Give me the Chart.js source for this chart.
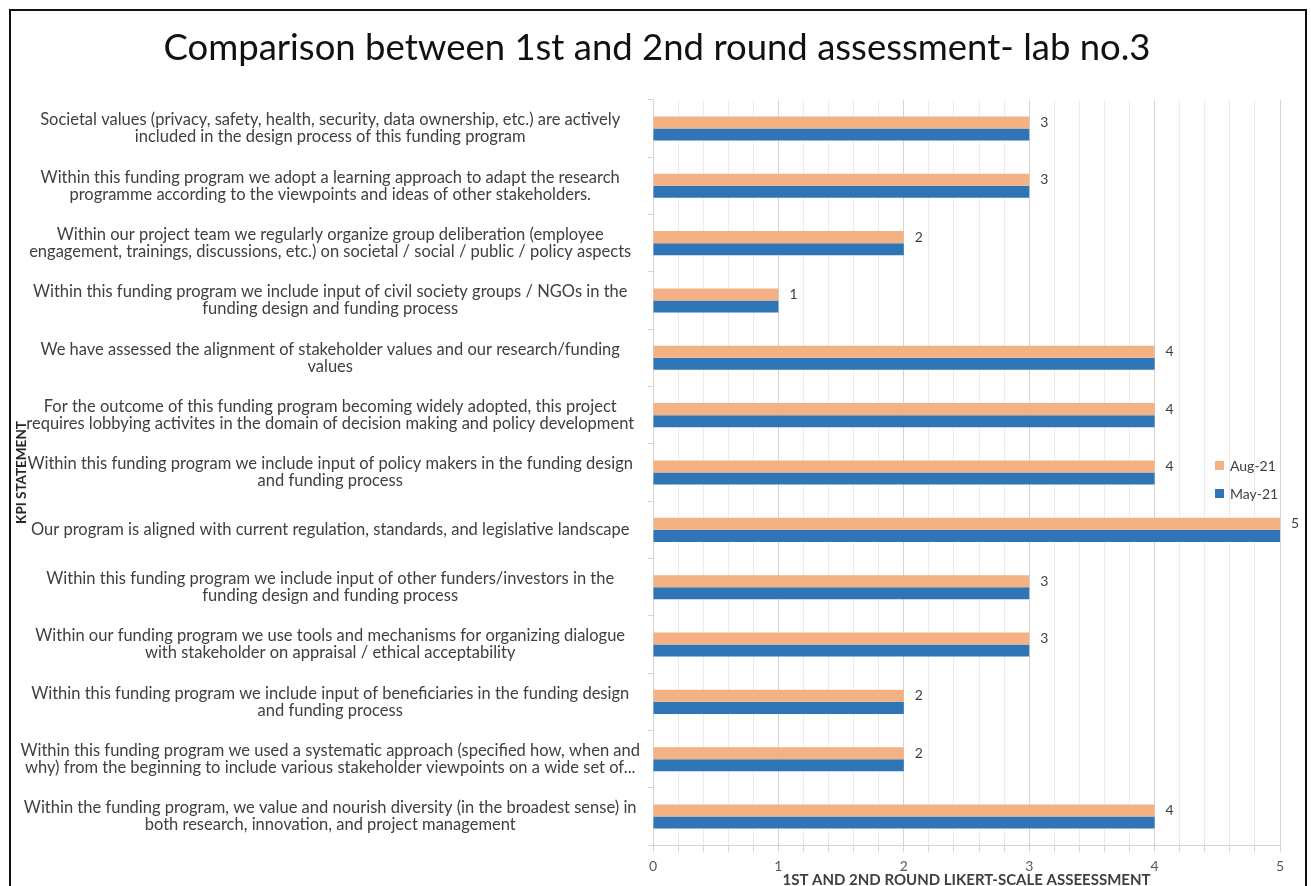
<!DOCTYPE html>
<html>
<head>
<meta charset="utf-8">
<script src="https://cdn.jsdelivr.net/npm/chart.js@4/dist/chart.umd.min.js"></script>
<style>
  html, body { margin: 0; padding: 0; background: #fff; overflow: hidden; }
  #wrap { position: relative; width: 1311px; height: 891px; }
  #frame { position: absolute; left: 9px; top: 9px; width: 1294px; height: 900px;
           border: 2px solid #111; pointer-events: none; }
</style>
</head>
<body>
<div id="wrap">
  <canvas id="kpiChart"></canvas>
  <div id="frame"></div>
</div>
<script>
const statements = [
  ['Societal values (privacy, safety, health, security, data ownership, etc.) are actively', 'included in the design process of this funding program'],
  ['Within this funding program we adopt a learning approach to adapt the research', 'programme according to the viewpoints and ideas of other stakeholders.'],
  ['Within our project team we regularly organize group deliberation (employee', 'engagement, trainings, discussions, etc.) on societal / social / public / policy aspects'],
  ['Within this funding program we include input of civil society groups / NGOs in the', 'funding design and funding process'],
  ['We have assessed the alignment of stakeholder values and our research/funding', 'values'],
  ['For the outcome of this funding program becoming widely adopted, this project', 'requires lobbying activites in the domain of decision making and policy development'],
  ['Within this funding program we include input of policy makers in the funding design', 'and funding process'],
  ['Our program is aligned with current regulation, standards, and legislative landscape'],
  ['Within this funding program we include input of other funders/investors in the', 'funding design and funding process'],
  ['Within our funding program we use tools and mechanisms for organizing dialogue', 'with stakeholder on appraisal / ethical acceptability'],
  ['Within this funding program we include input of beneficiaries in the funding design', 'and funding process'],
  ['Within this funding program we used a systematic approach (specified how, when and', 'why) from the beginning to include various stakeholder viewpoints on a wide set of...'],
  ['Within the funding program, we value and nourish diversity (in the broadest sense) in', 'both research, innovation, and project management']
];
const aug21 = [3, 3, 2, 1, 4, 4, 4, 5, 3, 3, 2, 2, 4];
const may21 = [3, 3, 2, 1, 4, 4, 4, 5, 3, 3, 2, 2, 4];
const seriesNames = ['Aug-21', 'May-21'];
const xTicks = [0, 1, 2, 3, 4, 5];

const FONT = 'Lato, "Open Sans", sans-serif';
const isMajor = v => Math.abs(v - Math.round(v)) < 1e-6;

// value labels next to the Aug-21 bars
const valueLabels = {
  id: 'valueLabels',
  afterDatasetsDraw(chart) {
    const ctx = chart.ctx;
    const meta = chart.getDatasetMeta(0);
    ctx.save();
    ctx.font = '14px ' + FONT;
    ctx.fillStyle = '#404040';
    ctx.textAlign = 'left';
    ctx.textBaseline = 'middle';
    meta.data.forEach((bar, i) => {
      ctx.fillText(String(chart.data.datasets[0].data[i]), bar.x + 11, bar.y);
    });
    ctx.restore();
  }
};

// legend sitting inside the plot on the right
const innerLegend = {
  id: 'innerLegend',
  afterDraw(chart) {
    const ctx = chart.ctx;
    ctx.save();
    ctx.font = '14px ' + FONT;
    ctx.textBaseline = 'middle';
    chart.data.datasets.forEach((ds, i) => {
      const y = 466 + i * 28;
      ctx.fillStyle = ds.backgroundColor;
      ctx.fillRect(1215, y - 5, 9, 9);
      ctx.fillStyle = '#404040';
      ctx.fillText(ds.label, 1230, y);
    });
    ctx.restore();
  }
};

// centre the title on the whole frame rather than the padded box
const titleShift = {
  id: 'titleShift',
  afterLayout(chart) {
    if (chart.titleBlock) {
      chart.titleBlock.left += 11;
      chart.titleBlock.right += 11;
    }
  }
};

new Chart(document.getElementById('kpiChart'), {
  type: 'bar',
  data: {
    labels: statements,
    datasets: [
      { label: seriesNames[0], data: aug21, backgroundColor: '#F4B183' },
      { label: seriesNames[1], data: may21, backgroundColor: '#2E75B6' }
    ]
  },
  options: {
    indexAxis: 'y',
    responsive: true,
    maintainAspectRatio: false,
    animation: false,
    layout: { padding: { left: 12, right: 31, top: 0, bottom: 0 } },
    datasets: { bar: { barPercentage: 1, categoryPercentage: 0.42 } },
    plugins: {
      legend: { display: false },
      tooltip: { enabled: false },
      title: {
        display: true,
        text: 'Comparison between 1st and 2nd round assessment- lab no.3',
        color: '#111',
        font: { family: FONT, size: 36.5, weight: 'normal', lineHeight: 1.2 },
        padding: { top: 26, bottom: 30 }
      }
    },
    scales: {
      x: {
        min: 0,
        max: 5,
        ticks: {
          stepSize: 0.2,
          autoSkip: false,
          color: '#595959',
          font: { family: FONT, size: 14 },
          padding: 6,
          maxRotation: 0,
          callback: v => isMajor(v) && xTicks.includes(Math.round(v)) ? String(Math.round(v)) : ''
        },
        grid: {
          color: c => isMajor(c.tick.value) ? '#d4d4d4' : '#ececec',
          tickLength: 7,
          tickColor: '#d9d9d9'
        },
        border: { color: '#d4d4d4' },
        title: {
          display: true,
          text: '1ST AND 2ND ROUND LIKERT-SCALE ASSEESSMENT',
          color: '#404040',
          font: { family: FONT, size: 15, weight: 'bold' },
          padding: { top: -10, bottom: 2 }
        }
      },
      y: {
        afterFit: s => { s.width = 641; },
        ticks: {
          crossAlign: 'center',
          color: '#404040',
          font: { family: FONT, size: 16.5, lineHeight: 1.04 },
          padding: 8,
          autoSkip: false
        },
        grid: {
          drawOnChartArea: false,
          tickLength: 5,
          tickColor: '#d4d4d4'
        },
        border: { color: '#d4d4d4' },
        title: {
          display: true,
          text: 'KPI STATEMENT',
          color: '#262626',
          font: { family: FONT, size: 13.5, weight: 'bold' },
          padding: { top: 2, bottom: 0 }
        }
      }
    }
  },
  plugins: [valueLabels, innerLegend, titleShift]
});
</script>
</body>
</html>
